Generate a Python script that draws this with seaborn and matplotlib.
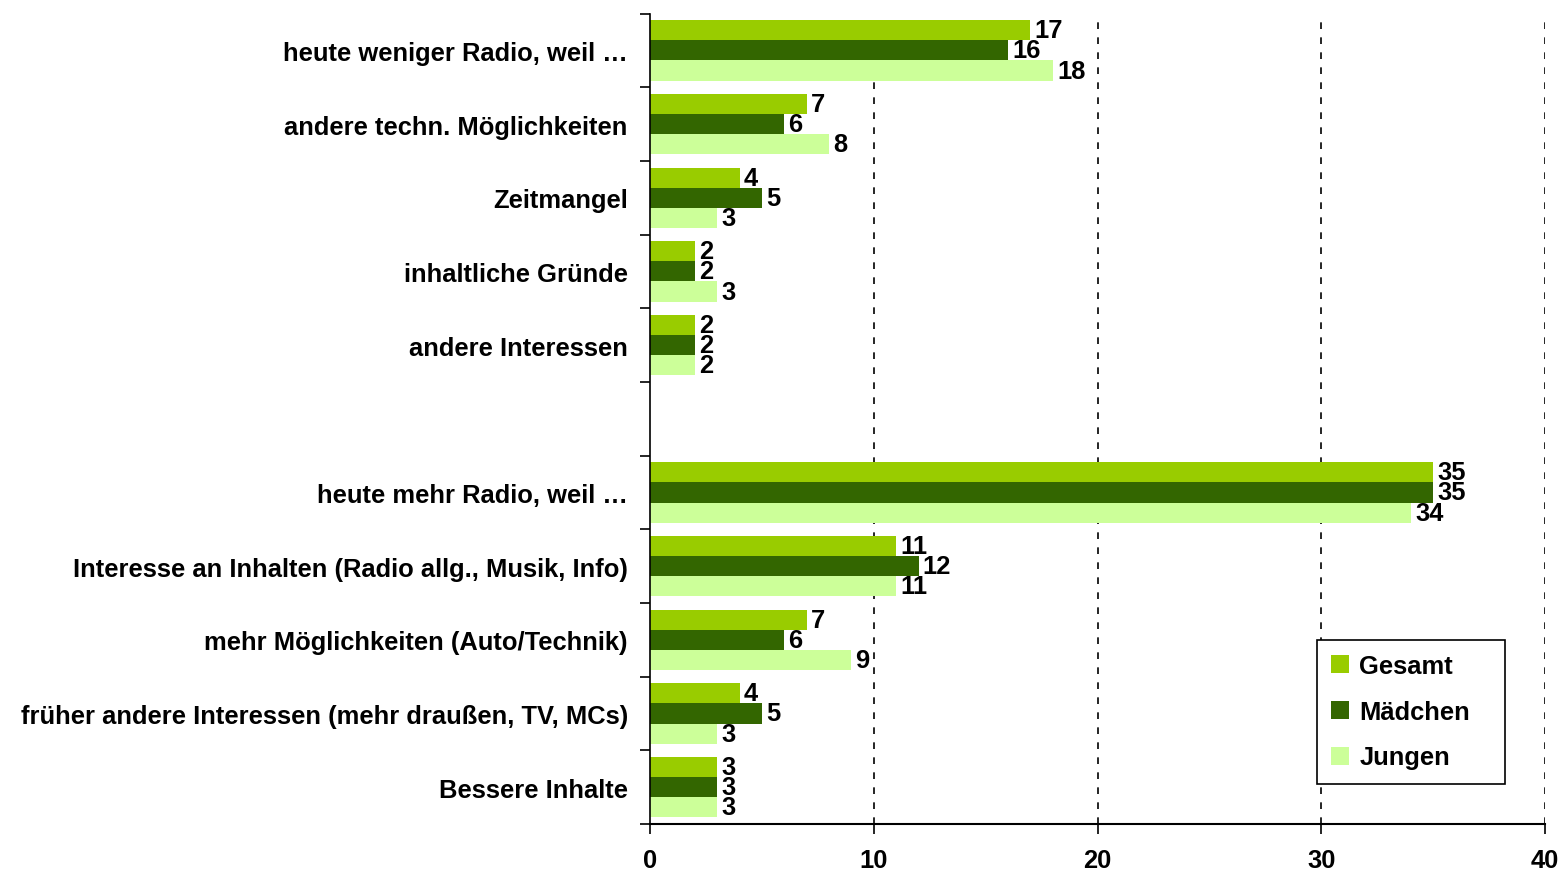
import pandas as pd
import matplotlib
matplotlib.use("Agg")
import matplotlib.pyplot as plt
import seaborn as sns

# categories top to bottom, "" marks the empty gap between the two blocks
kategorien = [
    "heute weniger Radio, weil \u2026",
    "andere techn. M\u00f6glichkeiten",
    "Zeitmangel",
    "inhaltliche Gr\u00fcnde",
    "andere Interessen",
    "",
    "heute mehr Radio, weil \u2026",
    "Interesse an Inhalten (Radio allg., Musik, Info)",
    "mehr M\u00f6glichkeiten (Auto/Technik)",
    "fr\u00fcher andere Interessen (mehr drau\u00dfen, TV, MCs)",
    "Bessere Inhalte",
]
gruppen = ["Gesamt", "M\u00e4dchen", "Jungen"]
gesamt = [17, 7, 4, 2, 2, None, 35, 11, 7, 4, 3]
maedchen = [16, 6, 5, 2, 2, None, 35, 12, 6, 5, 3]
jungen = [18, 8, 3, 3, 2, None, 34, 11, 9, 3, 3]
farben = ["#99CC00", "#336600", "#CCFF99"]

rows = []
for g, werte in zip(gruppen, [gesamt, maedchen, jungen]):
    for k, v in zip(kategorien, werte):
        if v is not None:
            rows.append({"kategorie": k, "gruppe": g, "wert": v})
df = pd.DataFrame(rows)

sns.set_style("white")
plt.rcParams["font.family"] = ["Liberation Sans", "DejaVu Sans"]
plt.rcParams["font.weight"] = "bold"
plt.rcParams["text.color"] = "black"
plt.rcParams["xtick.color"] = "black"
plt.rcParams["ytick.color"] = "black"

fs = 18.4

fig = plt.figure(figsize=(15.6, 8.7), dpi=100)
ax = fig.add_axes([0.4167, 0.0517, 0.5737, 0.9316])

sns.barplot(data=df, y="kategorie", x="wert", hue="gruppe", order=kategorien,
            hue_order=gruppen, palette=farben, orient="h", width=0.82,
            saturation=1, linewidth=0, ax=ax, legend=True)

for c in ax.containers:
    ax.bar_label(c, padding=3, fontsize=fs, fontweight="bold", color="black")

ax.set_xlim(0, 40)
ax.set_ylim(len(kategorien) - 0.5, -0.5)
ax.set_xticks([0, 10, 20, 30, 40])
ax.set_xticklabels(["0", "10", "20", "30", "40"], fontsize=fs, fontweight="bold")
ax.set_yticks(range(len(kategorien)))
ax.set_yticklabels(kategorien, fontsize=fs, fontweight="bold")
ax.tick_params(axis="y", which="major", left=False, length=0, pad=16)
ax.set_yticks([i - 0.5 for i in range(len(kategorien) + 1)], minor=True)
ax.tick_params(axis="y", which="minor", left=True, length=7, width=1.2,
               direction="out", color="black")
ax.tick_params(axis="x", which="major", bottom=True, length=7, width=1.2,
               direction="out", color="black", pad=10)
ax.set_xlabel("")
ax.set_ylabel("")

for x in [10, 20, 30, 40]:
    ax.axvline(x, color="black", linestyle=(0, (4, 5)), linewidth=1.2, zorder=0)

sns.despine(ax=ax, top=True, right=True)
ax.spines["left"].set_color("black")
ax.spines["bottom"].set_color("black")
ax.spines["left"].set_linewidth(1.2)
ax.spines["bottom"].set_linewidth(1.5)

leg = ax.legend(loc="upper left",
                bbox_to_anchor=(1317 / 1560, 1 - 785 / 870, 188 / 1560, 144 / 870),
                bbox_transform=fig.transFigure, mode="expand", frameon=True,
                fancybox=False, prop={"size": fs, "weight": "bold"},
                handlelength=0.7, handleheight=0.7, handletextpad=0.4,
                labelspacing=0.85, borderpad=0.55, borderaxespad=0)
leg.get_frame().set_edgecolor("black")
leg.get_frame().set_linewidth(1.2)
leg.get_frame().set_alpha(1)

fig.savefig("out.png", dpi=100)
